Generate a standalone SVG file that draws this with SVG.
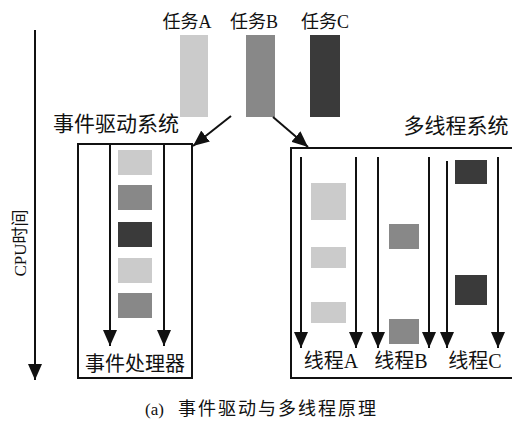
<svg xmlns="http://www.w3.org/2000/svg" width="512" height="423" viewBox="0 0 512 423">
<defs>
<style>
.t{font-family:"Liberation Serif","Noto Sans CJK SC",serif;fill:#111;}
.ln{stroke:#111;stroke-width:2;fill:none;}
.box{stroke:#111;stroke-width:2;fill:#fff;}
.la{fill:#cbcbcb;}
.mi{fill:#888;}
.dk{fill:#3a3a3a;}
</style>
<marker id="ah" markerUnits="userSpaceOnUse" markerWidth="16" markerHeight="14" refX="16" refY="7" orient="auto">
<path d="M0,0 L16,7 L0,14 Z" fill="#111"/>
</marker>
</defs>
<rect width="512" height="423" fill="#fff"/>

<g id="taskA">
<text class="t" x="187" y="28" font-size="18" text-anchor="middle">任务A</text>
<rect class="la" x="180" y="35" width="28" height="82"/>
</g>
<g id="taskB">
<text class="t" x="254" y="28" font-size="18" text-anchor="middle">任务B</text>
<rect class="mi" x="246" y="35" width="29" height="82"/>
</g>
<g id="taskC">
<text class="t" x="325" y="28" font-size="18" text-anchor="middle">任务C</text>
<rect class="dk" x="310" y="35" width="30" height="82"/>
</g>

<g id="cpu-axis">
<line class="ln" x1="35" y1="30" x2="35" y2="380" marker-end="url(#ah)"/>
<text class="t" font-size="17" text-anchor="middle" transform="translate(26,243) rotate(-90)">CPU时间</text>
</g>

<g id="event-system">
<text class="t" x="116" y="131" font-size="21" text-anchor="middle">事件驱动系统</text>
<rect class="box" x="78" y="144" width="114" height="234"/>
<rect class="la" x="118" y="150" width="34" height="25"/>
<rect class="mi" x="118" y="185" width="34" height="25"/>
<rect class="dk" x="118" y="222" width="34" height="25"/>
<rect class="la" x="118" y="258" width="34" height="25"/>
<rect class="mi" x="118" y="293" width="34" height="25"/>
<text class="t" x="135" y="371" font-size="20" text-anchor="middle">事件处理器</text>
</g>

<g id="multi-thread-system">
<text class="t" x="456" y="133" font-size="21" text-anchor="middle">多线程系统</text>
<rect class="box" x="291" y="148" width="230" height="230"/>
<rect class="la" x="311" y="183" width="35" height="37"/>
<rect class="la" x="311" y="247" width="35" height="21"/>
<rect class="la" x="311" y="302" width="35" height="21"/>
<rect class="mi" x="389" y="224" width="30" height="25"/>
<rect class="mi" x="389" y="319" width="30" height="25"/>
<rect class="dk" x="455" y="160" width="32" height="24"/>
<rect class="dk" x="455" y="275" width="32" height="30"/>
<text class="t" x="331" y="368" font-size="20" text-anchor="middle">线程A</text>
<text class="t" x="401" y="368" font-size="20" text-anchor="middle">线程B</text>
<text class="t" x="475" y="368" font-size="20" text-anchor="middle">线程C</text>
</g>

<g id="connectors">
<line class="ln" x1="231" y1="116" x2="193" y2="146" marker-end="url(#ah)"/>
<line class="ln" x1="273" y1="117" x2="308" y2="147" marker-end="url(#ah)"/>
<line class="ln" x1="110" y1="144" x2="110" y2="346" marker-end="url(#ah)"/>
<line class="ln" x1="164" y1="144" x2="164" y2="346" marker-end="url(#ah)"/>
<line class="ln" x1="301" y1="157" x2="301" y2="348" marker-end="url(#ah)"/>
<line class="ln" x1="356" y1="157" x2="356" y2="348" marker-end="url(#ah)"/>
<line class="ln" x1="378" y1="157" x2="378" y2="348" marker-end="url(#ah)"/>
<line class="ln" x1="429" y1="157" x2="429" y2="348" marker-end="url(#ah)"/>
<line class="ln" x1="447" y1="161" x2="447" y2="348" marker-end="url(#ah)"/>
<line class="ln" x1="498" y1="157" x2="498" y2="348" marker-end="url(#ah)"/>
</g>

<g id="caption">
<text x="145" y="415" font-size="17" font-family="'Liberation Serif',serif" fill="#111">(a)</text>
<text x="178" y="415" font-size="18" letter-spacing="2" font-family="'Noto Sans CJK SC',sans-serif" fill="#111">事件驱动与多线程原理</text>
</g>
</svg>
